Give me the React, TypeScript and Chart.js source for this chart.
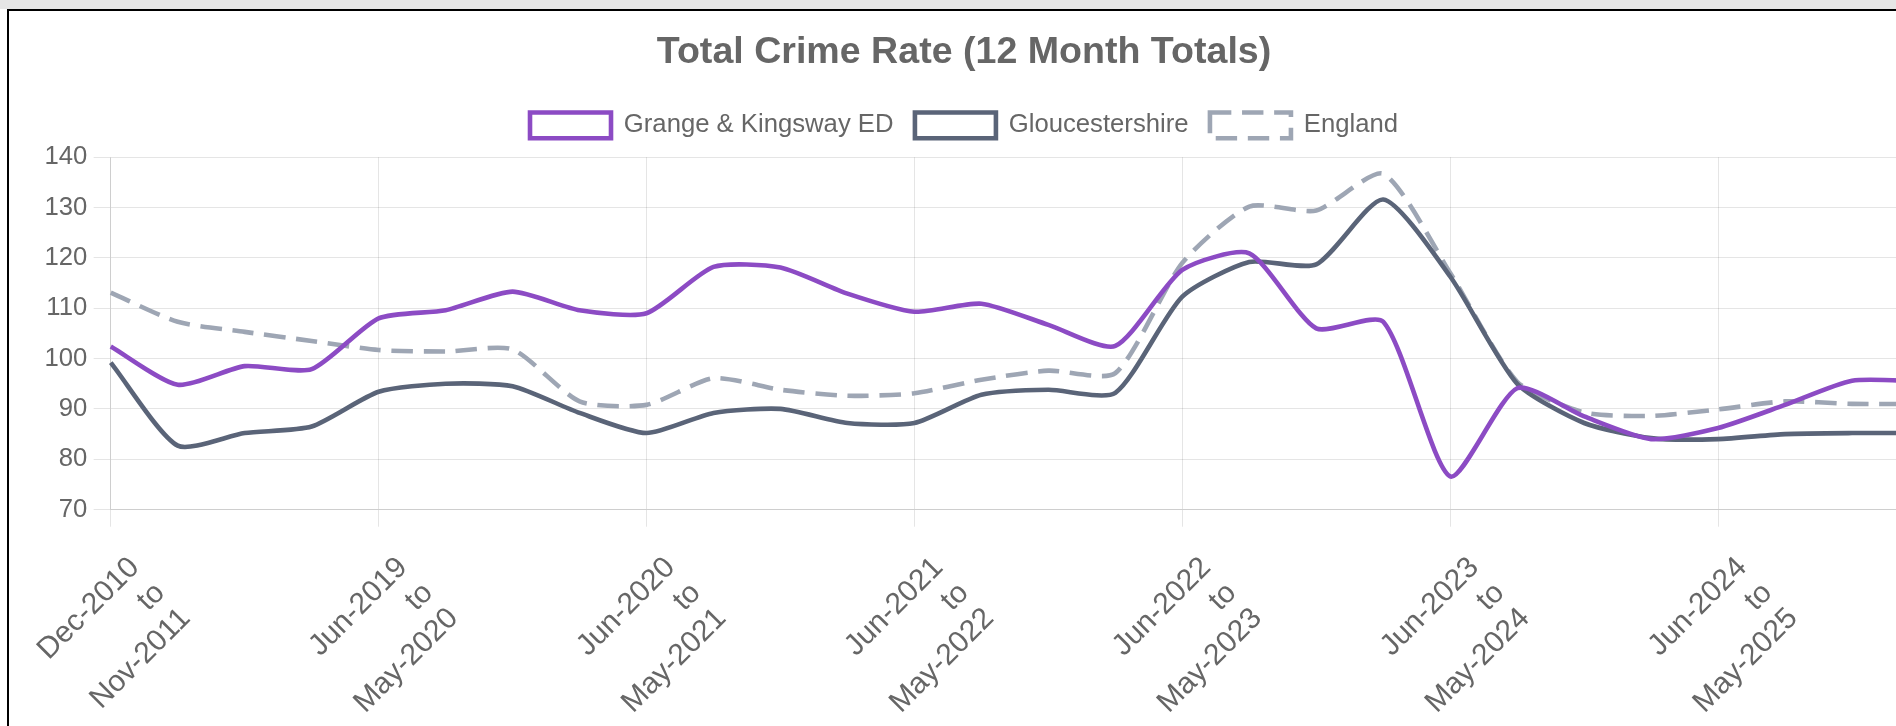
import { useEffect, useRef } from "react";
import { Chart, registerables } from "chart.js";

Chart.register(...registerables);

const periodLabels: string[][] = [
  ["Dec-2010", "to", "Nov-2011"],
  ["Sep-2018", "to", "Aug-2019"],
  ["Dec-2018", "to", "Nov-2019"],
  ["Mar-2019", "to", "Feb-2020"],
  ["Jun-2019", "to", "May-2020"],
  ["Sep-2019", "to", "Aug-2020"],
  ["Dec-2019", "to", "Nov-2020"],
  ["Mar-2020", "to", "Feb-2021"],
  ["Jun-2020", "to", "May-2021"],
  ["Sep-2020", "to", "Aug-2021"],
  ["Dec-2020", "to", "Nov-2021"],
  ["Mar-2021", "to", "Feb-2022"],
  ["Jun-2021", "to", "May-2022"],
  ["Sep-2021", "to", "Aug-2022"],
  ["Dec-2021", "to", "Nov-2022"],
  ["Mar-2022", "to", "Feb-2023"],
  ["Jun-2022", "to", "May-2023"],
  ["Sep-2022", "to", "Aug-2023"],
  ["Dec-2022", "to", "Nov-2023"],
  ["Mar-2023", "to", "Feb-2024"],
  ["Jun-2023", "to", "May-2024"],
  ["Sep-2023", "to", "Aug-2024"],
  ["Dec-2023", "to", "Nov-2024"],
  ["Mar-2024", "to", "Feb-2025"],
  ["Jun-2024", "to", "May-2025"],
  ["Sep-2024", "to", "Aug-2025"],
  ["Dec-2024", "to", "Nov-2025"],
  ["Mar-2025", "to", "Feb-2026"],
];

const grangeKingsway: number[] = [
  102.4, 94.8, 98.5, 97.9, 108.0, 109.6, 113.3, 109.6, 109.0, 118.2, 118.1, 112.9, 109.3, 110.9,
  106.7, 102.5, 117.6, 120.9, 106.0, 107.3, 76.6, 94.1, 88.5, 84.0, 86.2, 90.8, 95.6, 95.5,
];

const gloucestershire: number[] = [
  99.2, 82.7, 85.2, 86.5, 93.4, 95.0, 94.5, 89.2, 85.2, 89.2, 90.0, 87.2, 87.2, 92.8,
  93.8, 93.2, 112.3, 119.2, 118.7, 131.6, 116.3, 95.0, 87.2, 84.2, 84.0, 85.0, 85.2, 85.2,
];

const england: number[] = [
  113.1, 107.3, 105.3, 103.5, 101.7, 101.4, 101.8, 91.5, 90.8, 96.1, 93.8, 92.6, 93.1, 95.8,
  97.6, 97.1, 119.0, 130.2, 129.4, 136.7, 117.0, 95.4, 89.3, 88.6, 89.9, 91.5, 91.0, 91.0,
];

const seriesNames = ["Grange & Kingsway ED", "Gloucestershire", "England"];
const chartTitle = "Total Crime Rate (12 Month Totals)";
const yTicks = { min: 70, max: 140, step: 10 };

const FONT = "Arial, 'Liberation Sans', Helvetica, sans-serif";
const S = 2.14;
const LABEL_DROP = 17;

const legendMargin = {
  id: "legendMargin",
  beforeInit(chart: any) {
    const legend = chart.legend;
    if (!legend) return;
    const origFit = legend.fit;
    legend.fit = function () {
      origFit.call(this);
      this.height += 9;
    };
  },
};

export default function App() {
  const ref = useRef<HTMLCanvasElement | null>(null);

  useEffect(() => {
    if (!ref.current) return;
    const lw = 4.6;
    const chart = new Chart(ref.current, {
      type: "line",
      plugins: [legendMargin],
      data: {
        labels: periodLabels,
        datasets: [
          {
            label: seriesNames[0],
            data: grangeKingsway,
            borderColor: "#8c4bc4",
            backgroundColor: "#ffffff",
            borderWidth: lw,
            pointRadius: 0,
            tension: 0.22,
            fill: false,
          },
          {
            label: seriesNames[1],
            data: gloucestershire,
            borderColor: "#5a6478",
            backgroundColor: "#ffffff",
            borderWidth: lw,
            pointRadius: 0,
            tension: 0.22,
            fill: false,
          },
          {
            label: seriesNames[2],
            data: england,
            borderColor: "#9ea6b4",
            backgroundColor: "#ffffff",
            borderWidth: lw,
            borderDash: [10 * S, 5 * S],
            pointRadius: 0,
            tension: 0.22,
            fill: false,
          },
        ],
      },
      options: {
        animation: false,
        responsive: true,
        maintainAspectRatio: false,
        devicePixelRatio: 1,
        font: { family: FONT },
        plugins: {
          title: {
            display: true,
            text: chartTitle,
            color: "#666",
            font: { family: FONT, size: 37.6, weight: "bold" },
            padding: { top: 19, bottom: 16 },
          },
          legend: {
            display: true,
            position: "top",
            labels: {
              color: "#666",
              font: { family: FONT, size: 12 * S },
              boxWidth: 81,
              padding: 10 * S,
            },
          },
          tooltip: { enabled: false },
        },
        scales: {
          x: {
            afterBuildTicks: (scale: any) => {
              scale.ticks = scale.ticks.filter((_t: any, i: number) => i % 4 === 0);
            },
            afterFit: (scale: any) => {
              scale.paddingLeft = Math.max(0, scale.paddingLeft - LABEL_DROP + 3.5);
            },
            grid: { color: "rgba(0,0,0,0.1)", tickLength: 8 * S },
            ticks: {
              autoSkip: false,
              minRotation: 45,
              maxRotation: 45,
              color: "#666",
              padding: 3 * S + LABEL_DROP,
              labelOffset: 24,
              font: { family: FONT, size: 14 * S },
            },
          },
          y: {
            min: yTicks.min,
            max: yTicks.max,
            grid: { color: "rgba(0,0,0,0.1)", tickLength: 8 * S },
            ticks: {
              stepSize: yTicks.step,
              color: "#666",
              padding: 3 * S,
              font: { family: FONT, size: 12 * S },
            },
          },
        },
      },
    });
    return () => chart.destroy();
  }, []);

  return (
    <div style={{ position: "fixed", left: 0, top: 0, width: 1896, height: 726, background: "#fff", overflow: "hidden" }}>
      <div style={{ position: "absolute", left: 0, top: 0, width: 1896, height: 9, background: "#e6e6e6" }} />
      <div
        style={{
          position: "absolute",
          left: 7,
          top: 9,
          width: 2100,
          height: 900,
          borderLeft: "2px solid #000",
          borderTop: "2px solid #000",
        }}
      >
        <div style={{ position: "relative", width: 1910, height: 733 }}>
          <canvas ref={ref} />
        </div>
      </div>
    </div>
  );
}
